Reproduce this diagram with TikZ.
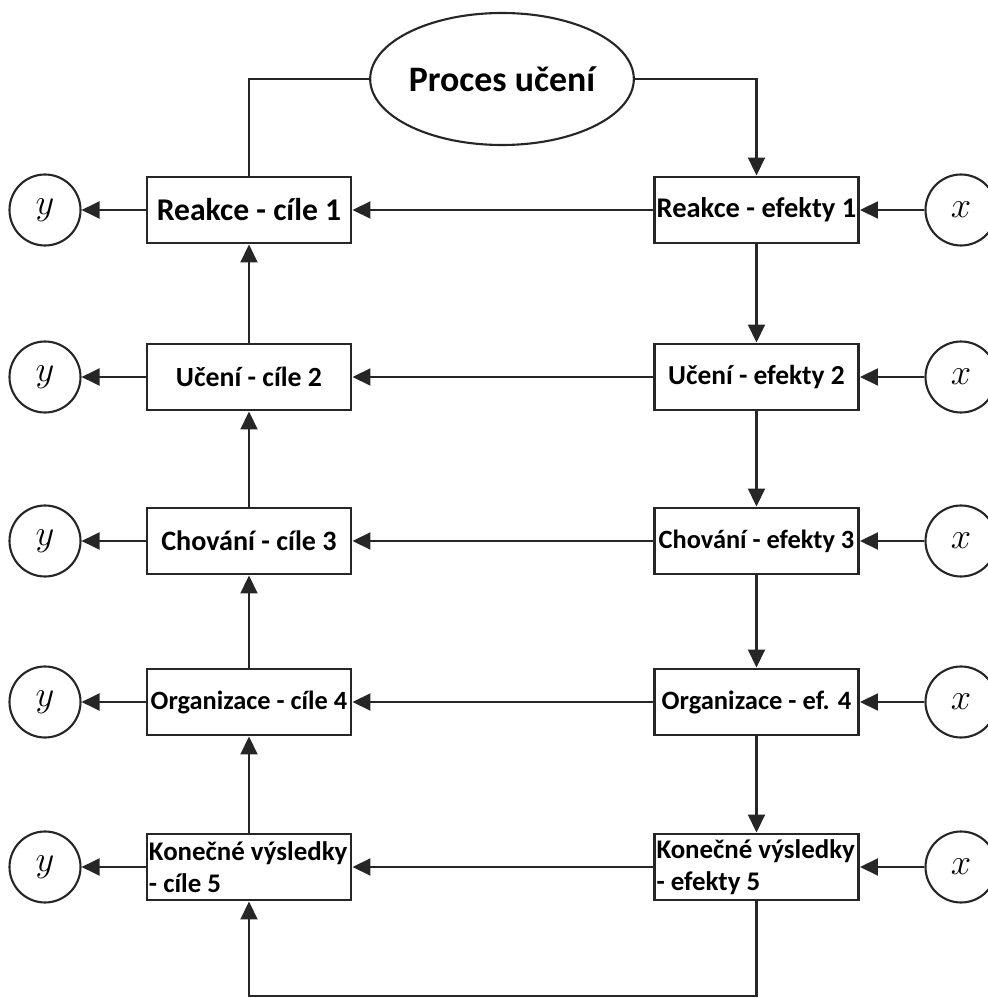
\documentclass[tikz,border=0pt]{standalone}
\usepackage{fontspec}
\setmainfont{Carlito}
\usepackage{amsmath}
\usetikzlibrary{positioning, calc, arrows.meta, shapes.geometric}

\begin{document}
\begin{tikzpicture}[
    line width=1.2pt, draw=black!85,
    >={Triangle[length=3.6mm,width=3.4mm]},
    blok/.style={draw, rectangle, line width=1.7pt, minimum width=4.08cm, minimum height=1.32cm, inner sep=1pt, font=\fontsize{#1}{18.5}\selectfont\bfseries},
    blok/.default=16,
    blokdva/.style={blok=#1, inner sep=1pt, text width=4.0cm, align=flush left},
    kruh/.style={draw, circle, minimum size=1.42cm, inner sep=0pt, font=\fontsize{20}{24}\selectfont},
    proces/.style={draw, ellipse, minimum width=4.78cm, minimum height=2.64cm, inner sep=0pt, font=\fontsize{20.4}{24}\selectfont\bfseries}
  ]
      \useasboundingbox (0,0) rectangle (19.76,19.96);

      \node[proces] (PU) at (10.04,18.38) {Proces učení};

      \node[blok=18] (C1) at (4.98,15.76) {Reakce - cíle 1};
      \node[blok=15.8] (C2) at (4.98,12.42) {Učení - cíle 2};
      \node[blok=16] (C3) at (4.98,9.14) {Chování - cíle 3};
      \node[blok=15] (C4) at (4.98,5.92) {Organizace - cíle 4};
      \node[blokdva=15.3] (C5) at (4.98,2.62) {Konečné~výsledky\\-~cíle~5};

      \node[blok=16.2] (E1) at (15.13,15.76) {Reakce - efekty 1};
      \node[blok=15.6] (E2) at (15.13,12.42) {Učení - efekty 2};
      \node[blok=15] (E3) at (15.13,9.14) {Chování - efekty 3};
      \node[blok=15.1] (E4) at (15.13,5.92) {Organizace - ef. 4};
      \node[blokdva=15.3] (E5) at (15.13,2.62) {Konečné~výsledky\\-~efekty~5};

      \foreach \i/\y in {1/15.76,2/12.42,3/9.14,4/5.92,5/2.62} {
        \node[kruh] (Y\i) at (0.9,\y) {$y$};
        \node[kruh] (X\i) at (19.22,\y) {$x$};
        \draw[->] (C\i) -- (Y\i);
        \draw[->] (E\i) -- (C\i);
        \draw[->] (X\i) -- (E\i);
      }

      \draw[->] (E1) -- (E2);
      \draw[->] (E2) -- (E3);
      \draw[->] (E3) -- (E4);
      \draw[->] (E4) -- (E5);

      \draw[->] (C2) -- (C1);
      \draw[->] (C3) -- (C2);
      \draw[->] (C4) -- (C3);
      \draw[->] (C5) -- (C4);

      \coordinate (dole) at (10,0.04);
      \draw (C1.north) |- (PU.west);
      \draw[->] (PU.east) -| (E1.north);
      \draw[->] (E5.south) |- (dole) -| (C5.south);
    \end{tikzpicture}
\end{document}
